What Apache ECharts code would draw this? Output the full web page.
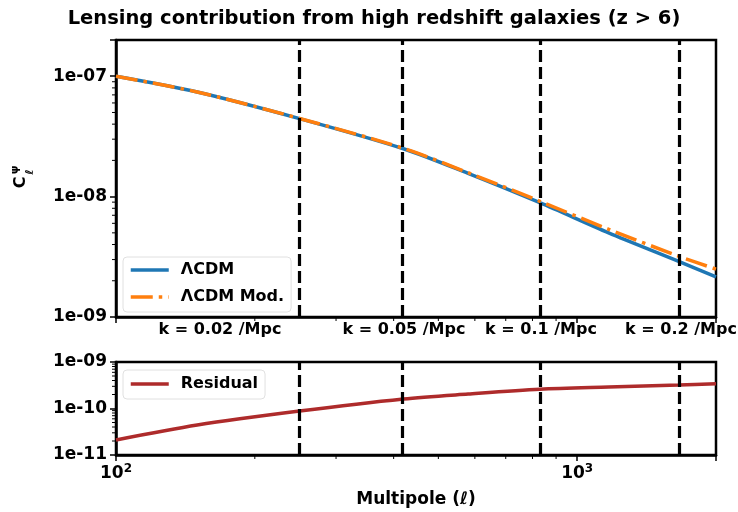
<!DOCTYPE html>
<html>
<head>
<meta charset="utf-8">
<script src="https://cdn.jsdelivr.net/npm/echarts@6/dist/echarts.min.js"></script>
<style>
  html, body { margin: 0; padding: 0; background: #fff; }
  #chart { width: 738px; height: 512px; }
</style>
</head>
<body>
<div id="chart"></div>
<script>
// multipole samples
const ell = [100, 150, 250, 420, 580, 830, 1170, 1660, 2000];
const clLcdm = [1.0e-7, 7.4e-8, 4.45e-8, 2.5e-8, 1.56e-8, 8.9e-9, 5.0e-9, 2.9e-9, 2.15e-9];
const clMod = [1.0e-7, 7.4e-8, 4.46e-8, 2.52e-8, 1.58e-8, 9.15e-9, 5.35e-9, 3.2e-9, 2.5e-9];
const residual = [2.1e-11, 4.4e-11, 8.8e-11, 1.6e-10, 2.05e-10, 2.6e-10, 2.9e-10, 3.2e-10, 3.4e-10];

// k scale markers
const kLines = [250, 418, 832, 1664];
const kLabels = ["k = 0.02 /Mpc", "k = 0.05 /Mpc", "k = 0.1 /Mpc", "k = 0.2 /Mpc"];

// minor ticks (matplotlib style log ticks)
const xMinor = [200, 300, 400, 500, 600, 700, 800, 900];
const topYMinor = [2e-9, 3e-9, 4e-9, 5e-9, 6e-9, 7e-9, 8e-9, 9e-9, 2e-8, 3e-8, 4e-8, 5e-8, 6e-8, 7e-8, 8e-8, 9e-8];
const botYMinor = [2e-11, 3e-11, 4e-11, 5e-11, 6e-11, 7e-11, 8e-11, 9e-11, 2e-10, 3e-10, 4e-10, 5e-10, 6e-10, 7e-10, 8e-10, 9e-10];

const FONT = "DejaVu Sans";
const BLUE = "#1f77b4";
const ORANGE = "#ff7f0e";
const RED = "#ae2b2b";

function isDecade(v) {
  const e = Math.round(Math.log10(v));
  return Math.abs(v / Math.pow(10, e) - 1) < 1e-6 ? e : null;
}

function sciLabel(v) {
  const e = isDecade(v);
  if (e === null) return "";
  return "1e-" + String(-e).padStart(2, "0");
}

function powLabel(v) {
  const e = isDecade(v);
  if (e === null) return "";
  return "{b|10}{s|" + e + "}";
}

function minorTickSeries(idx, xs, ys, xMin, yMin) {
  const data = xs.map((v) => [v, yMin, 0]).concat(ys.map((v) => [xMin, v, 1]));
  return {
    type: "custom",
    xAxisIndex: idx,
    yAxisIndex: idx,
    silent: true,
    clip: false,
    data: data,
    renderItem: (params, api) => {
      const p = api.coord([api.value(0), api.value(1)]);
      const vert = api.value(2) === 0;
      return {
        type: "line",
        shape: vert
          ? { x1: p[0], y1: p[1], x2: p[0], y2: p[1] + 4 }
          : { x1: p[0] - 4, y1: p[1], x2: p[0], y2: p[1] },
        style: { stroke: "#000", lineWidth: 1 }
      };
    }
  };
}

const kMarkLine = {
  silent: true,
  symbol: ["none", "none"],
  label: { show: false },
  lineStyle: { color: "#000", width: 3.2, type: [12, 5] },
  data: kLines.map((v) => ({ xAxis: v }))
};

const axisLineStyle = { show: true, lineStyle: { color: "#000", width: 2.5 } };
const majorTick = { show: true, length: 6, lineStyle: { color: "#000", width: 1.5 } };

function legendBox(names, top, pad) {
  return {
    data: names,
    orient: "vertical",
    left: 123,
    top: top,
    itemWidth: 38,
    itemHeight: 14,
    itemGap: 11,
    padding: pad,
    backgroundColor: "rgba(255,255,255,0.8)",
    borderColor: "#e0e0e0",
    borderWidth: 1,
    borderRadius: 4,
    itemStyle: { opacity: 0 },
    lineStyle: { width: 3.5 },
    formatter: (name) => "{t|" + name + "}",
    textStyle: {
      rich: { t: { fontFamily: FONT, fontWeight: "bold", fontSize: 16, color: "#000", padding: [0, 4, 0, 7] } }
    }
  };
}

const chart = echarts.init(document.getElementById("chart"));

chart.setOption({
  animation: false,
  title: {
    text: "Lensing contribution from high redshift galaxies (z > 6)",
    left: 369,
    textAlign: "center",
    top: 4,
    textStyle: { fontFamily: FONT, fontWeight: "bold", fontSize: 19.5, color: "#000" }
  },
  grid: [
    { left: 116, top: 40, width: 600, height: 277, show: true, borderColor: "#000", borderWidth: 2.5 },
    { left: 116, top: 362, width: 600, height: 93, show: true, borderColor: "#000", borderWidth: 2.5 }
  ],
  legend: [
    legendBox(["ΛCDM", "ΛCDM Mod."], 257, [5, 7, 7, 6]),
    legendBox(["Residual"], 370, [6, 7, 7, 6])
  ],
  xAxis: [
    {
      gridIndex: 0, type: "log", logBase: 10, min: 100, max: 2000,
      axisLine: axisLineStyle, axisTick: majorTick,
      axisLabel: { show: false }, splitLine: { show: false }
    },
    {
      gridIndex: 1, type: "log", logBase: 10, min: 100, max: 2000,
      axisLine: axisLineStyle, axisTick: majorTick, splitLine: { show: false },
      axisLabel: {
        formatter: powLabel,
        margin: 8,
        rich: {
          b: { fontFamily: FONT, fontWeight: "bold", fontSize: 17, color: "#000" },
          s: { fontFamily: FONT, fontWeight: "bold", fontSize: 12, color: "#000", padding: [0, 0, 9, 0] }
        }
      },
      name: "Multipole (ℓ)",
      nameLocation: "middle",
      nameGap: 36,
      nameTextStyle: { fontFamily: FONT, fontWeight: "bold", fontSize: 17, color: "#000" }
    }
  ],
  yAxis: [
    {
      gridIndex: 0, type: "log", logBase: 10, min: 1e-9, max: 2e-7,
      axisLine: axisLineStyle, axisTick: majorTick, splitLine: { show: false },
      axisLabel: { formatter: sciLabel, fontFamily: FONT, fontWeight: "bold", fontSize: 17, color: "#000", margin: 9 }
    },
    {
      gridIndex: 1, type: "log", logBase: 10, min: 1e-11, max: 1e-9,
      axisLine: axisLineStyle, axisTick: majorTick, splitLine: { show: false },
      axisLabel: { formatter: sciLabel, fontFamily: FONT, fontWeight: "bold", fontSize: 17, color: "#000", margin: 9 }
    }
  ],
  series: [
    {
      name: "ΛCDM",
      type: "line",
      xAxisIndex: 0, yAxisIndex: 0,
      data: ell.map((l, i) => [l, clLcdm[i]]),
      smooth: 0.3,
      symbol: "none",
      color: BLUE,
      lineStyle: { color: BLUE, width: 3.5 },
      markLine: kMarkLine
    },
    {
      name: "ΛCDM Mod.",
      type: "line",
      xAxisIndex: 0, yAxisIndex: 0,
      data: ell.map((l, i) => [l, clMod[i]]),
      smooth: 0.3,
      symbol: "none",
      color: ORANGE,
      lineStyle: { color: ORANGE, width: 3.5, type: [22, 6, 3.5, 6] }
    },
    {
      name: "Residual",
      type: "line",
      xAxisIndex: 1, yAxisIndex: 1,
      data: ell.map((l, i) => [l, residual[i]]),
      smooth: 0.3,
      symbol: "none",
      color: RED,
      lineStyle: { color: RED, width: 3.5 },
      markLine: kMarkLine
    },
    minorTickSeries(0, xMinor, topYMinor, 100, 1e-9),
    minorTickSeries(1, xMinor, botYMinor, 100, 1e-11)
  ],
  graphic: [
    // y-axis name C_l^psi, rotated
    { type: "text", x: 21, y: 182.5, rotation: Math.PI / 2,
      style: { text: "C", font: "bold 16px DejaVu Sans", fill: "#000", textAlign: "center", textVerticalAlign: "middle" } },
    { type: "text", x: 15, y: 170, rotation: Math.PI / 2,
      style: { text: "ψ", font: "bold 11px DejaVu Sans", fill: "#000", textAlign: "center", textVerticalAlign: "middle" } },
    { type: "text", x: 30, y: 172, rotation: Math.PI / 2,
      style: { text: "ℓ", font: "bold 11px DejaVu Sans", fill: "#000", textAlign: "center", textVerticalAlign: "middle" } }
  ].concat(kLabels.map((t, i) => ({
    type: "text",
    x: [220, 404, 541, 681][i],
    y: 330,
    style: { text: t, font: "bold 16px DejaVu Sans", fill: "#000", textAlign: "center", textVerticalAlign: "middle" }
  })))
});
</script>
</body>
</html>
